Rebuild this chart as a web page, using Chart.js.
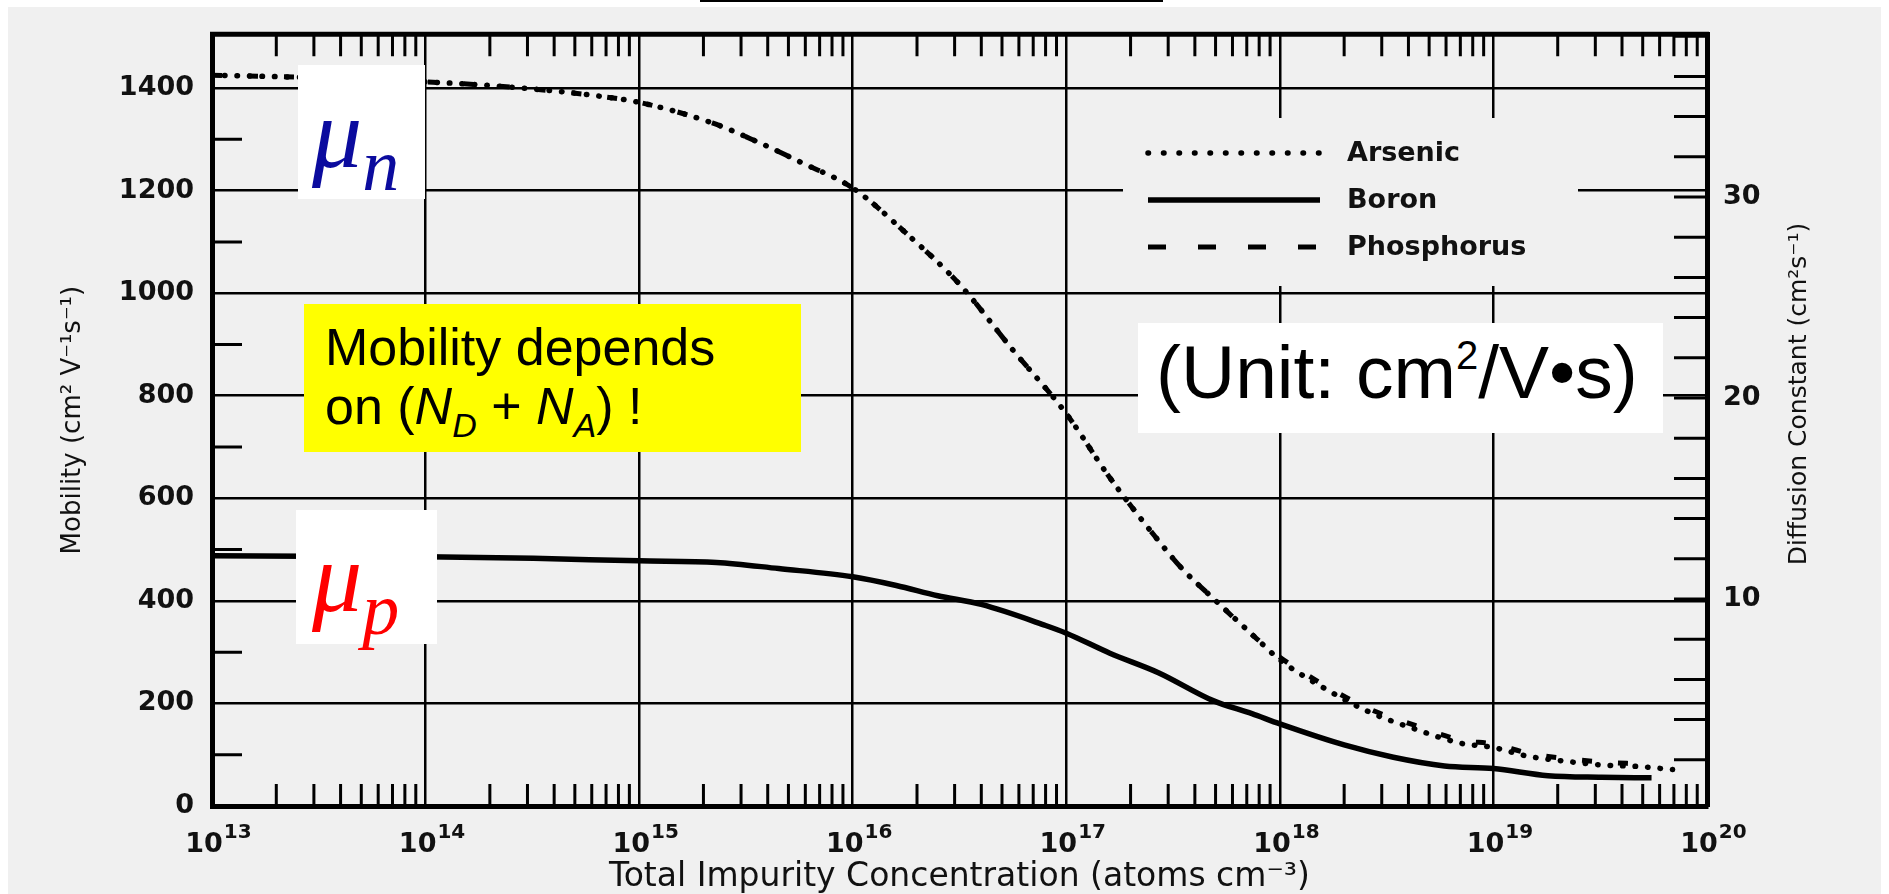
<!DOCTYPE html>
<html>
<head>
<meta charset="utf-8">
<title>Mobility vs Total Impurity Concentration</title>
<script src="https://cdn.jsdelivr.net/npm/chart.js@4.4.1/dist/chart.umd.min.js"></script>
<style>
  html, body { margin: 0; padding: 0; background: #fff; overflow: hidden; }
  #stage { position: relative; width: 1889px; height: 894px; }
  #panel { position: absolute; left: 8px; top: 7px; width: 1873px; height: 887px; background: #f0f0f0; }
  #rule { position: absolute; left: 700px; top: 0; width: 463px; height: 2px; background: #000; }
  #myChart { position: absolute; left: 0; top: 0; }
  .note { position: absolute; }
  .white { background: #fff; }
  .mu { position: absolute; font-family: 'Liberation Serif', 'Times New Roman', serif; font-style: italic;
        font-size: 100px; line-height: 1; white-space: nowrap; }
  .mu .sub { font-size: 74px; position: relative; top: 23px; }
  .line { position: absolute; font-family: 'Liberation Sans', Arial, sans-serif; font-size: 52px;
          line-height: 1; white-space: nowrap; color: #000; }
  .line .sb { font-size: 34px; font-style: italic; position: relative; top: 13px; }
  .unit { font-size: 75px; }
  .unit .sp { font-size: 40px; position: relative; top: -29px; }
</style>
</head>
<body>
<div id="stage">
  <div id="panel"></div>
  <div id="rule"></div>
  <canvas id="myChart" width="1889" height="894"></canvas>

  <!-- slide annotations on top of the graph -->
  <div class="note white" style="left:298px;top:65px;width:127px;height:134px">
    <span class="mu" style="left:14px;top:19px;color:#0b0b9e">μ<span class="sub">n</span></span>
  </div>
  <div class="note white" style="left:296px;top:510px;width:141px;height:134px">
    <span class="mu" style="left:16px;top:18px;color:#ff0000">μ<span class="sub">p</span></span>
  </div>
  <div class="note" style="left:304px;top:304px;width:497px;height:148px;background:#ffff00">
    <div class="line" style="left:21px;top:17px">Mobility depends</div>
    <div class="line" style="left:21px;top:76px">on (<i>N</i><span class="sb">D</span> + <i>N</i><span class="sb">A</span>) !</div>
  </div>
  <div class="note white" style="left:1138px;top:323px;width:525px;height:110px">
    <div class="line unit" style="left:18px;top:12px">(Unit: cm<span class="sp">2</span>/V•s)</div>
  </div>
</div>

<script>
// Electron / hole mobility in Si vs total impurity concentration

// Arsenic (electrons)
const arsenicN  = [1e13, 3.2e13, 1e14, 2e14, 3.2e14, 6.3e14, 1e15, 2.2e15, 3.5e15, 5.8e15, 1e16, 1.8e16, 3.2e16, 5.6e16,
                   1e17, 1.6e17, 2.6e17, 3.5e17, 4.9e17, 7.8e17, 1e18, 1.55e18, 2.6e18, 4.3e18, 7.1e18, 1e19, 1.45e19,
                   2.1e19, 3.2e19, 4.8e19, 6.9e19];
const arsenicMu = [1425, 1420, 1412, 1405, 1398, 1385, 1372, 1332, 1297, 1254, 1205, 1115, 1015, 890,
                   765, 640, 526, 462, 404, 326, 285, 234, 184, 150, 122, 114, 97,
                   88, 80, 77, 71];

// Phosphorus (electrons)
const phosphorusN  = [1e13, 3.2e13, 1e14, 2e14, 3.2e14, 6.3e14, 1e15, 2.2e15, 3.5e15, 5.8e15, 1e16, 1.8e16, 3.2e16, 5.6e16,
                      1e17, 1.6e17, 2.6e17, 3.5e17, 4.9e17, 7.8e17, 1e18, 1.55e18, 2.6e18, 4.3e18, 7.1e18, 1e19, 1.45e19,
                      2.1e19, 3.2e19, 4.8e19];
const phosphorusMu = [1425, 1420, 1412, 1405, 1398, 1385, 1372, 1332, 1297, 1254, 1205, 1115, 1015, 890,
                      765, 640, 526, 462, 404, 326, 290, 240, 190, 157, 128, 121, 103,
                      93, 86, 82];

// Boron (holes)
const boronN  = [1e13, 3.2e13, 1e14, 3.2e14, 1e15, 2.3e15, 4.5e15, 1e16, 1.6e16, 2.5e16, 4e16, 8e16, 1e17, 1.6e17,
                 2.7e17, 4.9e17, 7.4e17, 1e18, 2e18, 3.4e18, 5.9e18, 1e19, 1.8e19, 3.2e19, 5.5e19];
const boronMu = [488, 487, 486, 483, 478, 475, 463, 447, 430, 410, 393, 352, 337, 298,
                 260, 205, 180, 160, 119, 95, 78, 73, 59, 56, 55];

// axes
const concentrationTicks     = [1e13, 1e14, 1e15, 1e16, 1e17, 1e18, 1e19, 1e20];
const concentrationExponents = ['13', '14', '15', '16', '17', '18', '19', '20'];
const concentrationDecades = [1e13, 1e14, 1e15, 1e16, 1e17, 1e18, 1e19];
const minorMultipliers = [2, 3, 4, 5, 6, 7, 8, 9];
const mobilityTicks      = [0, 200, 400, 600, 800, 1000, 1200, 1400];
const mobilityMinorTicks = [100, 300, 500, 700, 900, 1100, 1300];
const diffusionTicks      = [10, 20, 30];
const diffusionMinorTicks = [2, 4, 6, 8, 10, 12, 14, 16, 18, 20, 22, 24, 26, 28, 30, 32, 34, 36, 38];

const ink = '#111';
const tickFont = { family: 'DejaVu Sans', weight: 'bold', size: 27 };

function points(xs, ys) {
    return xs.map((x, i) => ({ x: x, y: ys[i] }));
}

// frame, inward minor ticks, legend, power-of-ten labels and right-hand title
const framePlugin = {
    id: 'frame',
    beforeDatasetsDraw(chart) {
        const { ctx, chartArea: a, scales } = chart;
        ctx.save();
        ctx.strokeStyle = '#000';
        ctx.lineWidth = 3;
        ctx.beginPath();
        concentrationDecades.forEach(d => {
            minorMultipliers.forEach(m => {
                const x = scales.x.getPixelForValue(d * m);
                ctx.moveTo(x, a.top); ctx.lineTo(x, a.top + 22);
                ctx.moveTo(x, a.bottom); ctx.lineTo(x, a.bottom - 22);
            });
        });
        mobilityMinorTicks.forEach(v => {
            const y = scales.y.getPixelForValue(v);
            ctx.moveTo(a.left, y); ctx.lineTo(a.left + 30, y);
        });
        diffusionMinorTicks.forEach(v => {
            const y = scales.y2.getPixelForValue(v);
            ctx.moveTo(a.right, y); ctx.lineTo(a.right - 33, y);
        });
        ctx.stroke();

        // top edge of the box
        ctx.lineWidth = 5;
        ctx.beginPath();
        ctx.moveTo(a.left - 2, a.top); ctx.lineTo(a.right + 2, a.top);
        ctx.stroke();

        // blank patch behind the legend
        ctx.fillStyle = '#f0f0f0';
        ctx.fillRect(1123, 118, 455, 168);
        ctx.restore();
    },
    afterDatasetsDraw(chart) {
        const { ctx, chartArea: a, scales } = chart;
        ctx.save();
        chart.data.datasets.forEach((ds, i) => {
            const y = 153 + i * 47;
            ctx.strokeStyle = ds.borderColor;
            ctx.lineWidth = ds.borderWidth;
            ctx.lineCap = ds.borderCapStyle || 'butt';
            ctx.setLineDash(ds.legendDash || []);
            ctx.beginPath();
            ctx.moveTo(1148, y); ctx.lineTo(1320, y);
            ctx.stroke();
            ctx.setLineDash([]);
            ctx.fillStyle = ink;
            ctx.font = 'bold 27px "DejaVu Sans"';
            ctx.textBaseline = 'middle';
            ctx.fillText(ds.label, 1347, y + 1);
        });

        // x tick labels: 10 with a raised exponent
        ctx.fillStyle = ink;
        ctx.textBaseline = 'alphabetic';
        ctx.textAlign = 'left';
        concentrationTicks.forEach((v, i) => {
            const x = scales.x.getPixelForValue(v);
            ctx.font = 'bold 27px "DejaVu Sans"';
            const wBase = ctx.measureText('10').width;
            ctx.font = 'bold 20px "DejaVu Sans"';
            const wExp = ctx.measureText(concentrationExponents[i]).width;
            const x0 = x - (wBase + wExp) / 2 + 6;
            ctx.font = 'bold 27px "DejaVu Sans"';
            ctx.fillText('10', x0, a.bottom + 46);
            ctx.font = 'bold 20px "DejaVu Sans"';
            ctx.fillText(concentrationExponents[i], x0 + wBase + 1, a.bottom + 32);
        });

        // right axis title reads bottom to top, like the left one
        const s = scales.y2;
        ctx.translate(s.right - 90, 394);
        ctx.rotate(-Math.PI / 2);
        ctx.font = '25px "DejaVu Sans"';
        ctx.textAlign = 'center';
        ctx.textBaseline = 'middle';
        ctx.fillText('Diffusion Constant (cm²s⁻¹)', 0, 0);
        ctx.restore();
    }
};

const ctx = document.getElementById('myChart');

const myChart = new Chart(ctx, {
    type: 'line',
    data: {
        datasets: [{
            label: 'Arsenic',
            data: points(arsenicN, arsenicMu),
            borderColor: '#000',
            borderWidth: 5.5,
            borderDash: [0.5, 12],
            borderCapStyle: 'round',
            legendDash: [0.5, 15],
            cubicInterpolationMode: 'monotone',
            pointRadius: 0
        },
        {
            label: 'Boron',
            data: points(boronN, boronMu),
            borderColor: '#000',
            borderWidth: 5.5,
            cubicInterpolationMode: 'monotone',
            pointRadius: 0
        },
        {
            label: 'Phosphorus',
            data: points(phosphorusN, phosphorusMu),
            borderColor: '#000',
            borderWidth: 5,
            borderDash: [10, 26],
            legendDash: [18, 32],
            cubicInterpolationMode: 'monotone',
            pointRadius: 0
        }]
    },
    options: {
        responsive: false,
        animation: false,
        layout: { padding: { top: 34, left: 0, right: 0, bottom: 0 } },
        plugins: {
            legend: { display: false },
            tooltip: { enabled: false }
        },
        scales: {
            x: {
                type: 'logarithmic',
                position: 'bottom',
                min: 1e13,
                max: 1e20,
                afterBuildTicks: s => { s.ticks = concentrationTicks.map(v => ({ value: v })); },
                afterFit: s => { s.height = 88; },
                grid: { color: '#000', lineWidth: 2.5, drawTicks: false },
                border: { color: '#000', width: 5 },
                ticks: { display: false },
                title: {
                    display: true,
                    text: 'Total Impurity Concentration (atoms cm⁻³)',
                    color: ink,
                    font: { family: 'DejaVu Sans', size: 33 },
                    padding: { top: 0, bottom: -3 }
                }
            },
            y: {
                type: 'linear',
                position: 'left',
                min: 0,
                max: 1505,
                afterBuildTicks: s => { s.ticks = mobilityTicks.map(v => ({ value: v })); },
                afterFit: s => { s.width = 212; },
                grid: { color: '#000', lineWidth: 2.5, drawTicks: false },
                border: { color: '#000', width: 5 },
                ticks: {
                    padding: 18,
                    color: ink,
                    font: tickFont,
                    callback: v => String(v)
                },
                title: {
                    display: true,
                    text: 'Mobility (cm² V⁻¹s⁻¹)',
                    color: ink,
                    font: { family: 'DejaVu Sans', size: 26 },
                    padding: { top: 58, bottom: 0 }
                }
            },
            y2: {
                type: 'linear',
                position: 'right',
                min: -0.3,
                max: 38.1,
                afterBuildTicks: s => { s.ticks = diffusionTicks.map(v => ({ value: v })); },
                afterFit: s => { s.width = 182; },
                grid: { display: false, drawTicks: false },
                border: { color: '#000', width: 5 },
                ticks: {
                    padding: 16,
                    color: ink,
                    font: tickFont,
                    callback: v => String(v)
                }
            }
        }
    },
    plugins: [framePlugin]
});
</script>
</body>
</html>
